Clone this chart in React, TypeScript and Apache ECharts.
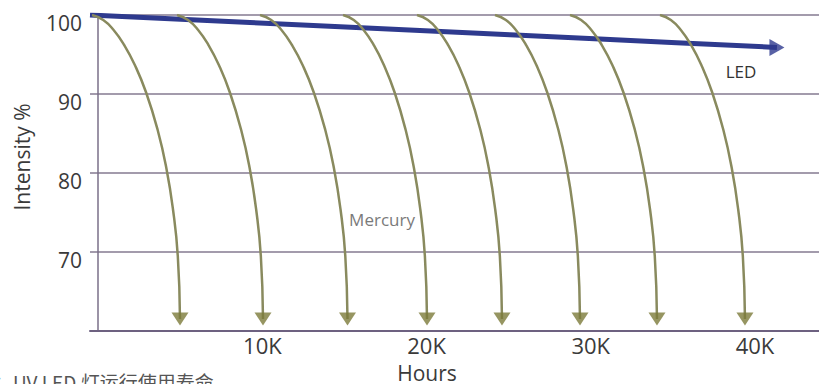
import { useEffect, useRef } from 'react';
import * as echarts from 'echarts';

// X axis: thousands of hours; tick labels
const xTickLabels = [10, 20, 30, 40];
// Y axis ticks (intensity %)
const yTickValues = [60, 70, 80, 90, 100];

// Mercury lamp curves: shared intensity levels, per-lamp hour positions (K)
const mercuryY = [100, 99.37, 98.1, 96.2, 93.67, 90.19, 85.44, 80.63, 75.32, 69.49, 61.52];
const mercuryX = [
  [-0.378, 0.308, 0.938, 1.582, 2.231, 2.918, 3.622, 4.149, 4.559, 4.847, 4.981],
  [4.799, 5.469, 6.086, 6.715, 7.349, 8.02, 8.708, 9.223, 9.624, 9.905, 10.037],
  [9.854, 10.536, 11.163, 11.803, 12.448, 13.131, 13.831, 14.355, 14.763, 15.049, 15.183],
  [14.909, 15.564, 16.166, 16.78, 17.399, 18.055, 18.727, 19.23, 19.622, 19.896, 20.025],
  [19.415, 20.078, 20.687, 21.308, 21.935, 22.598, 23.278, 23.787, 24.184, 24.462, 24.592],
  [24.166, 24.829, 25.438, 26.059, 26.686, 27.349, 28.029, 28.538, 28.935, 29.213, 29.343],
  [28.733, 29.411, 30.035, 30.671, 31.312, 31.991, 32.687, 33.208, 33.614, 33.898, 34.032],
  [34.214, 34.877, 35.486, 36.107, 36.734, 37.397, 38.077, 38.586, 38.983, 39.261, 39.391],
];

// LED curve
const ledX = [-0.5, 9.239, 19.592, 30.55, 41.34];
const ledY = [100, 99.05, 98.04, 96.96, 95.89];

export default function App() {
  const ref = useRef<HTMLDivElement>(null);
  useEffect(() => {
    const chart = echarts.init(ref.current!, null, { renderer: 'svg' });
    const font = "'Open Sans', 'Noto Sans', sans-serif";
    const mercurySeries = mercuryX.map((xs, i) => ({
      type: 'line',
      name: 'Mercury ' + (i + 1),
      data: xs.map((x, j) => [x, mercuryY[j]]),
      showSymbol: false,
      symbol: 'none',
      smooth: 0.5,
      lineStyle: { color: '#898a5e', width: 2.5 },
      z: 3,
      silent: true,
    }));
    const lastY = mercuryY[mercuryY.length - 1];
    chart.setOption({
      animation: false,
      backgroundColor: '#ffffff',
      grid: { left: 90, right: 0, top: 15, bottom: 53, containLabel: false, outerBoundsMode: 'none' },
      xAxis: {
        type: 'value',
        min: -0.5,
        max: 43.9,
        axisLine: { show: true, lineStyle: { color: '#6d6180', width: 2 } },
        axisTick: { show: false },
        splitLine: { show: false },
        axisLabel: {
          customValues: xTickLabels,
          formatter: (v: number) => v + 'K',
          fontSize: 22,
          color: '#3a3a3a',
          fontFamily: font,
          margin: 3,
        },
      },
      yAxis: {
        type: 'value',
        min: yTickValues[0],
        max: yTickValues[yTickValues.length - 1],
        interval: 10,
        axisLine: { show: true, lineStyle: { color: '#7a6f88', width: 1.5 } },
        axisTick: { show: false },
        splitLine: { show: true, lineStyle: { color: '#857a90', width: 1.5 } },
        axisLabel: {
          formatter: (v: number) => (v === yTickValues[0] ? '' : String(v)),
          fontSize: 21,
          color: '#3a3a3a',
          fontFamily: font,
          margin: 8,
          verticalAlign: 'top',
          lineHeight: 16,
        },
      },
      graphic: [
        {
          type: 'text',
          x: 22,
          y: 157,
          rotation: Math.PI / 2,
          style: {
            text: 'Intensity %',
            fontSize: 21,
            fontFamily: font,
            fill: '#3a3a3a',
            textAlign: 'center',
            textVerticalAlign: 'middle',
          },
        },
        {
          type: 'text',
          x: 427,
          y: 373,
          style: {
            text: 'Hours',
            fontSize: 21,
            fontFamily: font,
            fill: '#3a3a3a',
            textAlign: 'center',
            textVerticalAlign: 'middle',
          },
        },
        {
          type: 'text',
          x: 382,
          y: 219,
          style: {
            text: 'Mercury',
            fontSize: 17,
            fontFamily: font,
            fill: '#7a7a7a',
            textAlign: 'center',
            textVerticalAlign: 'middle',
          },
        },
        {
          type: 'text',
          x: 741,
          y: 71,
          style: {
            text: 'LED',
            fontSize: 17,
            fontFamily: font,
            fill: '#333333',
            textAlign: 'center',
            textVerticalAlign: 'middle',
          },
        },
        {
          type: 'text',
          x: -6,
          y: 372,
          style: {
            text: '：UV LED 灯运行使用寿命',
            fontSize: 19,
            fontFamily: "'Noto Sans CJK SC', sans-serif",
            fill: '#555555',
            textAlign: 'left',
            textVerticalAlign: 'top',
          },
        },
      ],
      series: [
        {
          type: 'line',
          name: 'LED',
          data: ledX.map((x, i) => [x, ledY[i]]),
          showSymbol: false,
          symbol: 'none',
          smooth: 0.3,
          lineStyle: { color: '#2e3a8e', width: 5 },
          z: 2,
          silent: true,
        },
        {
          type: 'scatter',
          name: 'LED arrow',
          data: [[ledX[ledX.length - 1], ledY[ledY.length - 1]]],
          symbol: 'triangle',
          symbolSize: [17, 15],
          symbolRotate: -90,
          itemStyle: { color: '#2e3a8e' },
          z: 2,
          silent: true,
        },
        ...mercurySeries,
        {
          type: 'scatter',
          name: 'Mercury arrows',
          data: mercuryX.map((xs) => [xs[xs.length - 1], lastY]),
          symbol: 'triangle',
          symbolSize: [17, 13],
          symbolRotate: 180,
          itemStyle: { color: '#7c7b3a' },
          z: 4,
          silent: true,
        },
      ],
    });
    return () => chart.dispose();
  }, []);
  return (
    <div
      ref={ref}
      style={{ position: 'absolute', left: 0, top: 0, width: 819, height: 384, background: '#fff' }}
    />
  );
}
